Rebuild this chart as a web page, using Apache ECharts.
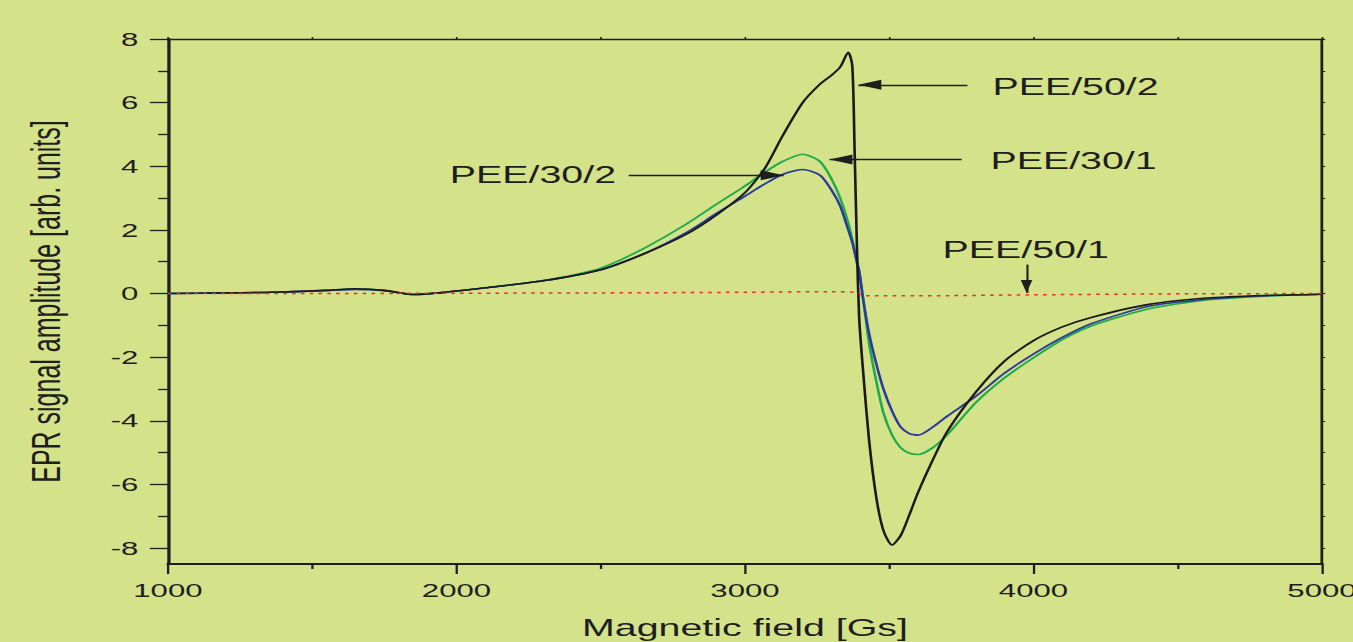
<!DOCTYPE html>
<html>
<head>
<meta charset="utf-8">
<script src="https://cdn.jsdelivr.net/npm/echarts@6/dist/echarts.min.js"></script>
<style>
  html, body { margin: 0; padding: 0; background: #d4e289; overflow: hidden; }
  #wrap { width: 1353px; height: 642px; overflow: hidden; }
  #chart { width: 825px; height: 642px; transform: scaleX(1.64); transform-origin: 0 0; }
</style>
</head>
<body>
<div id="wrap"><div id="chart"></div></div>
<script>
// ---- data ----
const fieldGs = [1000,1200,1400,1550,1650,1750,1850,1950,2100,2300,2500,2650,2800,2900,3000,3070,3130,3200,3260,3300,3330,3358,3372,3380,3388,3396,3410,3430,3455,3480,3510,3540,3570,3600,3650,3700,3800,3900,4000,4100,4200,4400,4600,4800,5000];
const pee50_2 = [0,0.02,0.05,0.1,0.15,0.1,-0.03,0.03,0.18,0.4,0.75,1.25,1.88,2.46,3.17,3.95,4.95,6.0,6.58,6.86,7.12,7.58,7.15,4.5,1.5,-0.8,-2.5,-4.6,-6.4,-7.45,-7.9,-7.6,-6.95,-6.25,-5.25,-4.35,-3.1,-2.12,-1.48,-1.05,-0.75,-0.34,-0.14,-0.06,-0.02];
const pee30_1 = [0,0.02,0.05,0.1,0.14,0.1,-0.03,0.03,0.18,0.41,0.8,1.42,2.2,2.8,3.38,3.82,4.15,4.38,4.15,3.6,3.0,2.22,1.7,1.35,0.95,0.7,-0.2,-1.55,-2.75,-3.75,-4.45,-4.85,-5.02,-5.06,-4.85,-4.45,-3.43,-2.65,-2.02,-1.45,-1.02,-0.48,-0.2,-0.08,-0.02];
const pee30_2 = [0,0.02,0.05,0.1,0.13,0.09,-0.03,0.03,0.18,0.4,0.75,1.25,1.93,2.51,3.06,3.45,3.74,3.9,3.72,3.25,2.75,2.0,1.6,1.3,1.0,0.7,-0.2,-1.25,-2.2,-3.0,-3.7,-4.2,-4.4,-4.45,-4.2,-3.86,-3.23,-2.5,-1.9,-1.38,-0.95,-0.4,-0.18,-0.07,-0.02];
const redField = [1000,1500,2000,2500,3000,3300,3380,3420,3600,4000,4500,5000];
const pee50_1 = [0,0,0.01,0.02,0.04,0.06,0.04,-0.07,-0.07,-0.04,-0.01,0];
const yMajorTicks = [-8,-6,-4,-2,0,2,4,6,8];
const yMinorTicks = [-7,-5,-3,-1,1,3,5,7];
const yAllTicks = [-8,-7,-6,-5,-4,-3,-2,-1,0,1,2,3,4,5,6,7,8];
const labelTexts = ['PEE/50/2','PEE/30/1','PEE/30/2','PEE/50/1'];
const labelAt = [[3855,6.5],[3848,4.18],[2556,3.74],[3973,1.38]];
const labelAlign = ['left','left','right','center'];
const arrowFrom = [[3771,6.56],[3751,4.21],[2597,3.72],[3976,0.91]];
const arrowTo = [[3393,6.56],[3293,4.21],[3134,3.72],[3976,0.02]];
const arrowHead = [[10,14],[10,14],[10,14],[7,13]];

const pairs = (xs, ys) => xs.map((x, i) => [x, ys[i]]);
const FONT = "'Liberation Sans', Arial, Helvetica, sans-serif";
const INK = '#1e1e1e';
const plain = v => String(v);

const chart = echarts.init(document.getElementById('chart'), null, { renderer: 'svg', width: 825, height: 642 });

const option = {
  backgroundColor: '#d4e289',
  animation: false,
  grid: { left: 102.4, right: 18.9, top: 39, bottom: 78, containLabel: false, outerBoundsMode: 'none' },
  xAxis: [
    {
      type: 'value', position: 'bottom', min: 1000, max: 5000, interval: 1000,
      axisLine: { show: true, onZero: false, lineStyle: { color: INK, width: 2 } },
      axisTick: { show: true, inside: false, length: 10, lineStyle: { color: INK, width: 1.4 } },
      minorTick: { show: true, splitNumber: 2, length: 5, lineStyle: { color: INK, width: 1.4 } },
      axisLabel: { show: true, margin: 17, fontSize: 19, color: INK, fontFamily: FONT, formatter: plain, hideOverlap: false },
      splitLine: { show: false },
      name: 'Magnetic field [Gs]', nameLocation: 'middle', nameGap: 52,
      nameTextStyle: { fontSize: 24, color: INK, fontFamily: FONT }
    },
    {
      type: 'value', position: 'top', min: 1000, max: 5000, interval: 1000,
      axisLine: { show: true, onZero: false, lineStyle: { color: INK, width: 1.4 } },
      axisTick: { show: true, inside: false, length: 2, lineStyle: { color: INK, width: 1 } },
      minorTick: { show: true, splitNumber: 2, length: 2, lineStyle: { color: INK, width: 1 } },
      axisLabel: { show: false },
      splitLine: { show: false }
    }
  ],
  yAxis: [
    {
      type: 'value', position: 'left', min: -8.5, max: 8,
      axisLine: { show: true, onZero: false, lineStyle: { color: INK, width: 2 } },
      axisTick: { show: true, inside: false, length: 11, customValues: yMajorTicks, lineStyle: { color: INK, width: 1.3 } },
      axisLabel: { show: true, margin: 18, fontSize: 19, color: INK, fontFamily: FONT, customValues: yMajorTicks, formatter: plain },
      splitLine: { show: false },
      name: 'EPR signal amplitude [arb. units]', nameLocation: 'middle', nameGap: 62,
      nameTextStyle: { fontSize: 25, color: INK, fontFamily: FONT }
    },
    {
      type: 'value', position: 'left', min: -8.5, max: 8,
      axisLine: { show: false },
      axisTick: { show: true, inside: false, length: 6, customValues: yMinorTicks, lineStyle: { color: INK, width: 1.3 } },
      axisLabel: { show: false },
      splitLine: { show: false }
    },
    {
      type: 'value', position: 'right', min: -8.5, max: 8,
      axisLine: { show: true, onZero: false, lineStyle: { color: INK, width: 1.7 } },
      axisTick: { show: true, inside: false, length: 2, customValues: yAllTicks, lineStyle: { color: INK, width: 1 } },
      axisLabel: { show: false },
      splitLine: { show: false }
    }
  ],
  series: [
    {
      name: 'PEE/30/1', type: 'line', data: pairs(fieldGs, pee30_1), showSymbol: false, smooth: 0.25,
      lineStyle: { color: '#1faa4c', width: 1.6 }, z: 3
    },
    {
      name: 'PEE/30/2', type: 'line', data: pairs(fieldGs, pee30_2), showSymbol: false, smooth: 0.25,
      lineStyle: { color: '#2b3a9c', width: 1.6 }, z: 4
    },
    {
      name: 'PEE/50/2', type: 'line', data: pairs(fieldGs, pee50_2), showSymbol: false, smooth: 0.25,
      lineStyle: { color: '#1a1a1a', width: 1.6 }, z: 5
    },
    {
      name: 'PEE/50/1', type: 'line', data: pairs(redField, pee50_1), showSymbol: false, smooth: 0.3,
      lineStyle: { color: '#e8302c', width: 1.5, type: [2.2, 3.2] }, z: 6
    },
    {
      name: 'annotations', type: 'line', data: [], z: 7, silent: true,
      markLine: {
        silent: true, animation: false,
        symbol: ['none', 'triangle'],
        label: { show: false },
        lineStyle: { color: INK, width: 1.3, type: 'solid' },
        itemStyle: { color: INK },
        emphasis: { disabled: true },
        data: arrowFrom.map((f, i) => [
          { coord: f, symbol: 'none' },
          { coord: arrowTo[i], symbol: 'triangle', symbolSize: arrowHead[i], symbolOffset: [0, arrowHead[i][1] / 2] }
        ])
      },
      markPoint: {
        silent: true, animation: false,
        symbol: 'circle', symbolSize: 1,
        itemStyle: { color: 'rgba(0,0,0,0)' },
        data: labelTexts.map((t, i) => ({
          coord: labelAt[i], value: t,
          label: {
            show: true, formatter: t,
            position: labelAlign[i] === 'left' ? 'right' : (labelAlign[i] === 'right' ? 'left' : 'inside'),
            distance: 0, fontSize: 24, color: INK, fontFamily: FONT
          }
        }))
      }
    }
  ]
};
chart.setOption(option);
</script>
</body>
</html>
